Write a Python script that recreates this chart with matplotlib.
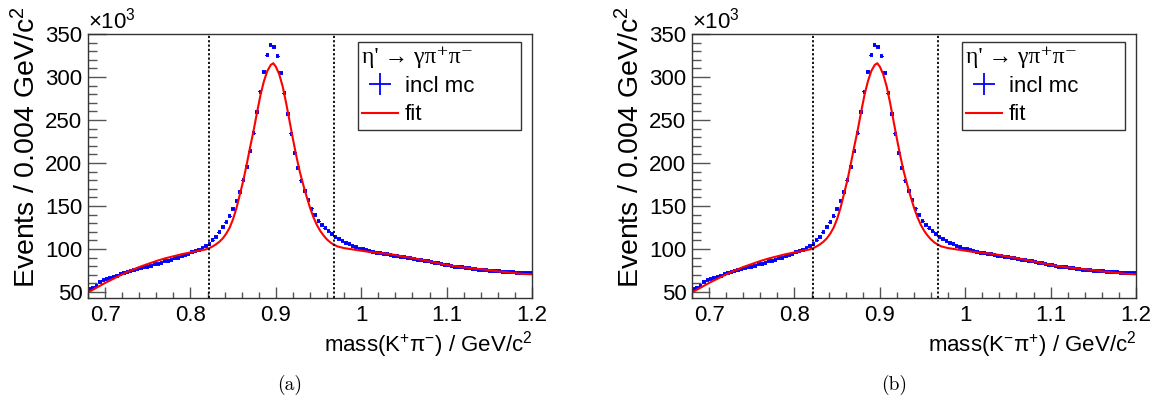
import numpy as np
import matplotlib
matplotlib.use('Agg')
import matplotlib.pyplot as plt
from matplotlib.ticker import MultipleLocator
from matplotlib.lines import Line2D

plt.rcParams['font.family'] = ['Liberation Sans', 'DejaVu Sans']
plt.rcParams['mathtext.fontset'] = 'custom'
plt.rcParams['mathtext.rm'] = 'Liberation Sans'
plt.rcParams['mathtext.it'] = 'Liberation Sans:italic'
plt.rcParams['mathtext.sf'] = 'Liberation Sans'

## binning: 0.004 GeV/c^2 bins from 0.68 to 1.2
bin_width = 0.004
mass_lo, mass_hi = 0.68, 1.2
bin_centers = np.arange(mass_lo + bin_width / 2, mass_hi, bin_width)

## inclusive MC, events per bin (x 10^3)
incl_mc = [
    53, 54.5, 56.5, 61.5, 63.5, 65, 66.5, 67.5, 69, 70.5,
    72, 73, 74, 75, 76.5, 77.5, 78.5, 79.5, 80.5, 82,
    83, 84, 85.5, 86.5, 87.5, 89, 90, 91.5, 93, 94.5,
    96, 97.5, 99, 101, 103, 106, 110, 114.5, 119.5, 125,
    131, 138, 146.5, 156, 166, 180, 195, 213.5, 234.5, 259,
    283, 306, 325, 337, 335, 324, 305, 281, 257, 234,
    212, 194, 179.5, 167, 157, 147, 139, 132, 127.5, 124,
    120.5, 117, 114, 111.5, 109.5, 107.5, 105.5, 103.5, 102, 100.5,
    99.5, 98.5, 97.5, 96.5, 95.7, 95, 94.3, 93.6, 93, 92.3,
    91.6, 91, 90.3, 89.6, 89, 88.3, 87.7, 87, 86.3, 85.6,
    84.8, 84, 83.3, 82.5, 81.8, 80.8, 80.2, 79.6, 79, 78.5,
    78, 77.5, 77, 76.5, 76, 75.6, 75.2, 74.8, 74.5, 74.2,
    73.9, 73.6, 73.3, 73, 72.8, 72.6, 72.4, 72.2, 72, 71.8,
]

## fit curve sampled along the mass axis (x 10^3)
fit_mass = [
    0.680, 0.690, 0.700, 0.710, 0.720, 0.730, 0.740, 0.750, 0.760, 0.770,
    0.780, 0.790, 0.800, 0.810, 0.818, 0.822, 0.826, 0.830, 0.834, 0.838,
    0.842, 0.846, 0.850, 0.854, 0.858, 0.862, 0.866, 0.870, 0.874, 0.878,
    0.882, 0.886, 0.890, 0.894, 0.897, 0.900, 0.904, 0.908, 0.912, 0.916,
    0.920, 0.924, 0.928, 0.932, 0.936, 0.940, 0.944, 0.948, 0.952, 0.956,
    0.960, 0.964, 0.968, 0.972, 0.980, 0.990, 1.000, 1.010, 1.020, 1.030,
    1.040, 1.050, 1.060, 1.070, 1.080, 1.090, 1.100, 1.110, 1.120, 1.130,
    1.140, 1.150, 1.160, 1.170, 1.180, 1.190, 1.200,
]
fit_vals = [
    49.5, 55, 60.5, 65.5, 70.5, 75, 79, 82.5, 86, 89,
    91.5, 94, 96, 98, 99.5, 101, 103, 105.5, 108.5, 112.5,
    118, 125, 135, 148, 164, 180, 199, 219, 238, 259,
    279, 295, 307, 314, 316, 312, 303, 289, 270, 249,
    228, 208, 190, 175, 161, 148, 137, 128, 121, 115.5,
    111, 107.5, 105, 103, 101, 99.5, 98, 96.5, 95.5, 94.5,
    93, 91, 89.5, 87.5, 85.5, 83.5, 81.5, 80, 78.5, 77.5,
    76.5, 75.5, 74, 73, 72, 71, 70.5,
]

## signal window
window = [0.822, 0.968]

xlabels = [r'mass(K$^{+}\mathrm{\pi}^{-}$) / GeV/c$^{2}$',
           r'mass(K$^{-}\mathrm{\pi}^{+}$) / GeV/c$^{2}$']
captions = ['(a)', '(b)']
legend_title = "\u03b7' \u2192 \u03b3\u03c0\u207a\u03c0\u207b"

fig = plt.figure(figsize=(11.58, 3.99), dpi=100)
ax_lefts = [88 / 1158, 692 / 1158]
fs = 16
frame_col = '#333333'

for k in range(2):
    ax = fig.add_axes([ax_lefts[k], 1 - 298 / 399, 444 / 1158, 264 / 399])
    vals = np.array(incl_mc)
    errs = np.sqrt(vals * 1000) / 1000
    ax.errorbar(bin_centers, vals, xerr=bin_width / 2, yerr=errs, fmt='none',
                ecolor='#0000ff', elinewidth=2.8, capsize=0)
    ax.plot(fit_mass, fit_vals, color='#ff0000', lw=1.5)
    for w in window:
        ax.axvline(w, color='black', ls=(0, (1.2, 1.2)), lw=1.3)

    ax.set_xlim(mass_lo, mass_hi)
    ax.set_ylim(43, 350)
    ax.xaxis.set_major_locator(MultipleLocator(0.1))
    ax.xaxis.set_minor_locator(MultipleLocator(0.02))
    ax.yaxis.set_major_locator(MultipleLocator(50))
    ax.yaxis.set_minor_locator(MultipleLocator(10))
    ax.set_xticks([0.7, 0.8, 0.9, 1.0, 1.1, 1.2])
    ax.set_xticklabels(['0.7', '0.8', '0.9', '1', '1.1', '1.2'])
    ax.tick_params(axis='x', which='major', direction='in', length=8, width=1,
                   color='#555555', labelsize=fs, pad=5)
    ax.tick_params(axis='x', which='minor', direction='in', length=4, width=1,
                   color='#555555')
    ax.tick_params(axis='y', which='major', direction='in', length=13, width=1,
                   color='#555555', labelsize=fs, pad=4)
    ax.tick_params(axis='y', which='minor', direction='in', length=6.5, width=1,
                   color='#555555')
    for s in ax.spines.values():
        s.set_color(frame_col)
        s.set_linewidth(1)

    ax.text(0.0, 1.0, '\u00d710$^{3}$', transform=ax.transAxes, ha='left',
            va='bottom', fontsize=fs)
    ax.text(-0.138, 1.105, 'Events / 0.004 GeV/c$^{2}$', transform=ax.transAxes,
            rotation=90, ha='center', va='top', fontsize=20.5)
    ax.text(1.0, -0.178, xlabels[k], transform=ax.transAxes, ha='right',
            va='center', fontsize=fs)

    handles = [
        ax.errorbar([], [], xerr=1, yerr=1, fmt='none', ecolor='#0000ff',
                    elinewidth=1.3, capsize=3),
        Line2D([], [], color='#ff0000', lw=1.5),
    ]
    leg = ax.legend(handles, ['incl mc', 'fit'], title=legend_title,
                    title_fontproperties={'family': ['Liberation Serif', 'DejaVu Serif'],
                                          'size': fs + 1},
                    alignment='left',
                    loc='upper left', bbox_to_anchor=(0.608, 0.636, 0.367, 0.334),
                    mode='expand', fontsize=fs, frameon=True, fancybox=False,
                    edgecolor=frame_col, framealpha=1, borderpad=0.2,
                    labelspacing=0.35, handlelength=1.6, handletextpad=0.3,
                    borderaxespad=0)
    leg.get_frame().set_linewidth(1)

    fig.text((ax_lefts[k] * 1158 + 202) / 1158, 1 - 385 / 399, captions[k],
             ha='center', va='center', fontsize=14, family=['cmr10', 'DejaVu Serif'])

fig.savefig('out.png', dpi=100)
